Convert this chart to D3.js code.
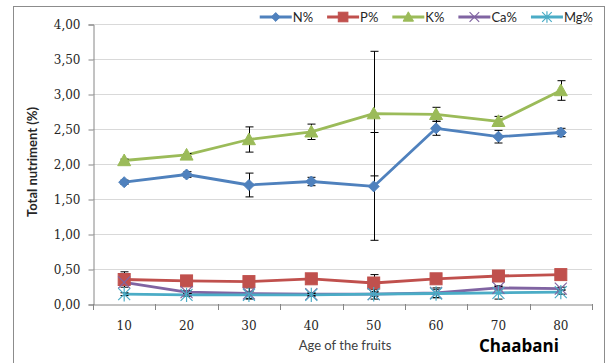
<!DOCTYPE html>
<html>
<head>
<meta charset="utf-8">
<script src="https://cdn.jsdelivr.net/npm/d3@7"></script>
<style>
  html, body { margin: 0; padding: 0; background: #fff; }
  svg { display: block; }
</style>
</head>
<body>
<svg id="chart" width="610" height="363"></svg>
<script>
// Chart data
const ages = ['10', '20', '30', '40', '50', '60', '70', '80'];
const yTicks = [0, 0.5, 1, 1.5, 2, 2.5, 3, 3.5, 4];

const nVals  = [1.74, 1.85, 1.70, 1.75, 1.68, 2.51, 2.39, 2.45];
const nErr   = [0.03, 0.04, 0.17, 0.06, 0.77, 0.10, 0.09, 0.06];
const pVals  = [0.35, 0.33, 0.32, 0.36, 0.30, 0.36, 0.40, 0.42];
const pErr   = [0.11, 0.02, 0.03, 0.03, 0.12, 0.03, 0.03, 0.03];
const kVals  = [2.05, 2.13, 2.35, 2.46, 2.72, 2.71, 2.61, 3.05];
const kErr   = [0.02, 0.02, 0.18, 0.11, 0.89, 0.10, 0.07, 0.14];
const caVals = [0.31, 0.17, 0.15, 0.14, 0.14, 0.16, 0.23, 0.22];
const caErr  = [0.03, 0.02, 0.08, 0.02, 0.03, 0.07, 0.03, 0.02];
const mgVals = [0.14, 0.13, 0.13, 0.13, 0.14, 0.15, 0.16, 0.17];
const mgErr  = [0.02, 0.02, 0.05, 0.02, 0.07, 0.06, 0.09, 0.03];

const series = [
    { name: 'N%',  values: nVals,  err: nErr,  color: '#4F81BD', marker: 'diamond' },
    { name: 'P%',  values: pVals,  err: pErr,  color: '#C0504D', marker: 'square' },
    { name: 'K%',  values: kVals,  err: kErr,  color: '#9BBB59', marker: 'triangle' },
    { name: 'Ca%', values: caVals, err: caErr, color: '#8064A2', marker: 'cross' },
    { name: 'Mg%', values: mgVals, err: mgErr, color: '#4BACC6', marker: 'star' }
];

const svg = d3.select('#chart');

// outer frame
svg.append('rect')
    .attr('x', 13.5).attr('y', 6.5)
    .attr('width', 591).attr('height', 400)
    .attr('fill', 'none')
    .attr('stroke', '#8c8c8c')
    .attr('stroke-width', 1);

const plot = { left: 93, right: 592, top: 24, bottom: 304 };

const x = d3.scaleBand().domain(ages).range([plot.left, plot.right]).padding(0);
const y = d3.scaleLinear().domain([0, 4]).range([plot.bottom, plot.top]);

const fmt = d => d3.format('.2f')(d).replace('.', ',');

// gridlines
svg.append('g')
    .selectAll('line')
    .data(yTicks.filter(d => d > 0))
    .enter().append('line')
    .attr('x1', plot.left).attr('x2', plot.right)
    .attr('y1', d => Math.round(y(d)) + 0.5)
    .attr('y2', d => Math.round(y(d)) + 0.5)
    .attr('stroke', '#d9d9d9')
    .attr('stroke-width', 1);

// y axis
const yAxis = svg.append('g')
    .attr('transform', `translate(${plot.left + 0.5},0.5)`)
    .call(d3.axisLeft(y).tickValues(yTicks).tickFormat(fmt).tickSize(5).tickPadding(8));
yAxis.select('.domain').attr('stroke', '#868686');
yAxis.selectAll('.tick line').attr('stroke', '#868686');
yAxis.selectAll('.tick text')
    .attr('font-family', '"DejaVu Serif", serif')
    .attr('font-size', 12)
    .attr('fill', '#262626');

// x axis (labels)
const xAxis = svg.append('g')
    .attr('transform', `translate(0,${plot.bottom + 0.5})`)
    .call(d3.axisBottom(x).tickSize(0).tickPadding(17));
xAxis.select('.domain').attr('stroke', '#868686');
xAxis.selectAll('.tick text')
    .attr('font-family', '"DejaVu Serif", serif')
    .attr('font-size', 12)
    .attr('fill', '#262626');

// x tick marks on band boundaries
svg.append('g')
    .selectAll('line')
    .data(d3.range(ages.length + 1))
    .enter().append('line')
    .attr('x1', i => Math.round(plot.left + i * x.step()) + 0.5)
    .attr('x2', i => Math.round(plot.left + i * x.step()) + 0.5)
    .attr('y1', plot.bottom)
    .attr('y2', plot.bottom + 6)
    .attr('stroke', '#868686');

// axis titles
svg.append('text')
    .attr('transform', `translate(37,${(plot.top + plot.bottom) / 2 - 2}) rotate(-90)`)
    .attr('text-anchor', 'middle')
    .attr('font-family', 'Lato, "Open Sans", sans-serif')
    .attr('font-size', 13)
    .attr('font-weight', 'bold')
    .attr('fill', '#262626')
    .text('Total nutriment (%)');

svg.append('text')
    .attr('x', 345).attr('y', 350)
    .attr('text-anchor', 'middle')
    .attr('font-family', 'Lato, "Open Sans", sans-serif')
    .attr('font-size', 13)
    .attr('fill', '#404040')
    .text('Age of the fruits');

svg.append('text')
    .attr('x', 519).attr('y', 352)
    .attr('text-anchor', 'middle')
    .attr('font-family', '"Open Sans", Lato, sans-serif')
    .attr('font-size', 17)
    .attr('font-weight', 'bold')
    .attr('fill', '#000')
    .text('Chaabani');

// marker drawing
function drawMarker(g, type, color, cx, cy, scale) {
    const s = scale || 1;
    if (type === 'diamond') {
        const r = 5.5 * s;
        g.append('path')
            .attr('d', `M${cx},${cy - r}L${cx + r},${cy}L${cx},${cy + r}L${cx - r},${cy}Z`)
            .attr('fill', color).attr('stroke', color);
    } else if (type === 'square') {
        const r = 6 * s;
        g.append('rect')
            .attr('x', cx - r).attr('y', cy - r)
            .attr('width', 2 * r).attr('height', 2 * r)
            .attr('fill', color).attr('stroke', color);
    } else if (type === 'triangle') {
        const r = 6.5 * s;
        g.append('path')
            .attr('d', `M${cx},${cy - r}L${cx + r},${cy + r * 0.8}L${cx - r},${cy + r * 0.8}Z`)
            .attr('fill', color).attr('stroke', color);
    } else if (type === 'cross' || type === 'star') {
        const r = 6 * s;
        let d = `M${cx - r},${cy - r}L${cx + r},${cy + r}M${cx - r},${cy + r}L${cx + r},${cy - r}`;
        if (type === 'star') d += `M${cx},${cy - r * 1.2}L${cx},${cy + r * 1.2}`;
        g.append('path')
            .attr('d', d)
            .attr('fill', 'none')
            .attr('stroke', color)
            .attr('stroke-width', 1.2);
    }
}

const cxOf = i => x(ages[i]) + x.bandwidth() / 2;

const line = d3.line()
    .x((d, i) => cxOf(i))
    .y(d => y(d));

// series lines
series.forEach(s => {
    svg.append('path')
        .datum(s.values)
        .attr('d', line)
        .attr('fill', 'none')
        .attr('stroke', s.color)
        .attr('stroke-width', 2.8)
        .attr('stroke-linejoin', 'round');
});

// error bars (under the markers)
series.forEach(s => {
    const g = svg.append('g');
    s.values.forEach((v, i) => {
        const cx = Math.round(cxOf(i)) + 0.5;
        const hi = y(v + s.err[i]);
        const lo = y(v - s.err[i]);
        g.append('line')
            .attr('x1', cx).attr('x2', cx)
            .attr('y1', hi).attr('y2', lo)
            .attr('stroke', '#000').attr('stroke-width', 1);
        [hi, lo].forEach(yy => {
            g.append('line')
                .attr('x1', cx - 4).attr('x2', cx + 4)
                .attr('y1', yy).attr('y2', yy)
                .attr('stroke', '#000').attr('stroke-width', 1);
        });
    });
});

// markers
series.forEach(s => {
    const g = svg.append('g');
    s.values.forEach((v, i) => drawMarker(g, s.marker, s.color, cxOf(i), y(v)));
});

// legend
const legend = svg.append('g').attr('transform', 'translate(0,17)');
const items = [];
series.forEach(s => {
    const item = legend.append('g');
    item.append('line')
        .attr('x1', 0).attr('x2', 32)
        .attr('y1', 0).attr('y2', 0)
        .attr('stroke', s.color).attr('stroke-width', 2.8);
    drawMarker(item, s.marker, s.color, 16, 0, 0.8);
    const t = item.append('text')
        .attr('x', 33).attr('y', 4.5)
        .attr('font-family', 'Lato, "Open Sans", sans-serif')
        .attr('font-size', 13)
        .attr('fill', '#262626')
        .text(s.name);
    items.push({ item, w: 33 + t.node().getComputedTextLength() });
});
const gap = 14;
let lx = 593 - (d3.sum(items, d => d.w) + gap * (items.length - 1));
items.forEach(d => {
    d.item.attr('transform', `translate(${lx},0)`);
    lx += d.w + gap;
});
</script>
</body>
</html>
